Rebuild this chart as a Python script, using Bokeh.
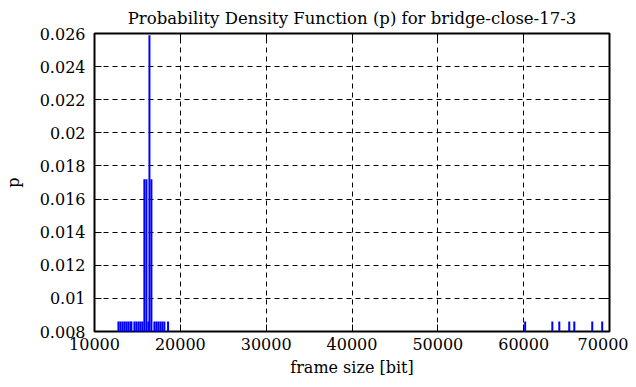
from bokeh.plotting import figure
from bokeh.models import Range1d, FixedTicker, LinearAxis, CustomJSTickFormatter, Title
from bokeh.embed import file_html
from bokeh.resources import INLINE

title_text = "Probability Density Function (p) for bridge-close-17-3"
x_label = "frame size [bit]"
y_label = "p"

frame_size = [12790, 13020, 13260, 13490, 13720, 13950, 14190, 14300,
              14650, 14880, 15120, 15350, 15580, 15810, 16050, 16280,
              16400, 16630, 16980, 17210, 17440, 17680, 17910, 18140,
              18570,
              60170, 63340, 64150, 65310, 65900, 67990, 69150]
prob = [0.0086, 0.0086, 0.0086, 0.0086, 0.0086, 0.0086, 0.0086, 0.0086,
        0.0086, 0.0086, 0.0086, 0.0086, 0.0086, 0.0172, 0.0172, 0.0086,
        0.0259, 0.0172, 0.0086, 0.0086, 0.0086, 0.0086, 0.0086, 0.0086,
        0.0086,
        0.0086, 0.0086, 0.0086, 0.0086, 0.0086, 0.0086, 0.0086]
zero = [0.0] * len(prob)

x_ticks = [10000, 20000, 30000, 40000, 50000, 60000, 70000]
y_ticks = [0.008, 0.010, 0.012, 0.014, 0.016, 0.018, 0.020, 0.022, 0.024, 0.026]

FONT = "DejaVu Serif"
FS = "16px"

p = figure(width=628, height=379, output_backend="svg", toolbar_location=None,
           x_range=Range1d(10000, 70000), y_range=Range1d(0.008, 0.026),
           min_border_left=93, min_border_right=19, min_border_top=32, min_border_bottom=48,
           x_axis_location=None, y_axis_location=None)

p.title = Title(text=title_text, align="center", text_font=FONT, text_font_size="16.5px",
                text_font_style="normal", text_color="black", standoff=12)

p.segment(x0=frame_size, y0=zero, x1=frame_size, y1=prob, line_color="#0000ff", line_width=2)

fmt_y = CustomJSTickFormatter(code="return String(Number(tick.toFixed(4)));")
fmt_x = CustomJSTickFormatter(code="return String(Math.round(tick));")
fmt_none = CustomJSTickFormatter(code="return '';")

def mk_axis(ticks, fmt, label=None, standoff=6):
    ax = LinearAxis(ticker=FixedTicker(ticks=ticks), formatter=fmt)
    ax.axis_line_color = None
    ax.major_tick_in = 7
    ax.major_tick_out = 0
    ax.major_tick_line_color = "black"
    ax.major_tick_line_width = 1
    ax.minor_tick_line_color = None
    ax.major_label_text_font = FONT
    ax.major_label_text_font_size = FS
    ax.major_label_text_font_style = "normal"
    ax.major_label_text_color = "black"
    ax.major_label_standoff = standoff
    if label:
        ax.axis_label = label
        ax.axis_label_text_font = FONT
        ax.axis_label_text_font_size = FS
        ax.axis_label_text_font_style = "normal"
        ax.axis_label_text_color = "black"
        ax.axis_label_standoff = 5
    return ax

xa = mk_axis(x_ticks, fmt_x, x_label)
ya = mk_axis(y_ticks, fmt_y, y_label, standoff=9)
ya.axis_label_standoff = 14
p.add_layout(xa, "below")
p.add_layout(ya, "left")
p.add_layout(mk_axis(x_ticks, fmt_none, standoff=0), "above")
p.add_layout(mk_axis(y_ticks, fmt_none, standoff=0), "right")

p.xgrid.ticker = FixedTicker(ticks=x_ticks)
p.ygrid.ticker = FixedTicker(ticks=y_ticks)
for g in (p.xgrid, p.ygrid):
    g.grid_line_color = "black"
    g.grid_line_dash = "5 4"
    g.grid_line_width = 1

p.outline_line_color = "black"
p.outline_line_width = 2
p.background_fill_color = "white"
p.border_fill_color = "white"

open("out.html", "w").write(file_html(p, INLINE))
